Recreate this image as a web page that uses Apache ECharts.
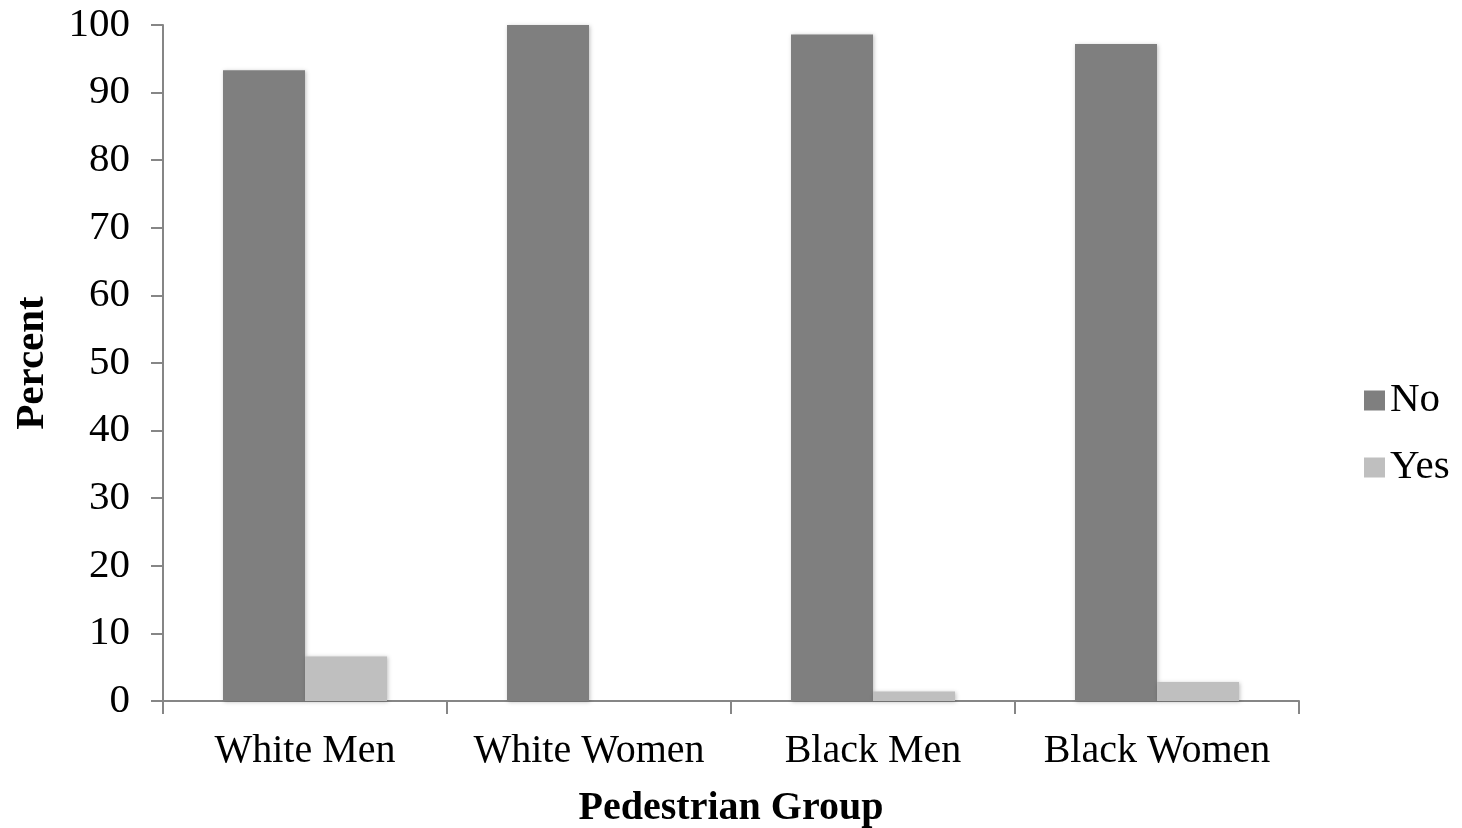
<!DOCTYPE html>
<html>
<head>
<meta charset="utf-8">
<script src="https://cdn.jsdelivr.net/npm/echarts@6/dist/echarts.min.js"></script>
<style>
  html, body { margin: 0; padding: 0; background: #fff; }
  #chart { width: 1462px; height: 828px; }
</style>
</head>
<body>
<div id="chart"></div>
<script>
// Pedestrian groups along the x axis
const categories = ['White Men', 'White Women', 'Black Men', 'Black Women'];
// Percent answering "No" / "Yes" per group
const noValues = [93.3, 100, 98.6, 97.2];
const yesValues = [6.6, 0, 1.4, 2.8];
const yTicks = { min: 0, max: 100, interval: 10 };

const FONT = '"Liberation Serif", "DejaVu Serif", serif';
const AXIS_COLOR = '#868686';

const chart = echarts.init(document.getElementById('chart'));

const barShadow = {
  shadowBlur: 4,
  shadowColor: 'rgba(0,0,0,0.25)',
  shadowOffsetX: 1,
  shadowOffsetY: 1
};

chart.setOption({
  animation: false,
  backgroundColor: '#fff',
  textStyle: { fontFamily: FONT },
  grid: {
    left: 163, right: 163, top: 25, bottom: 127,
    containLabel: false,
    outerBoundsMode: 'none'
  },
  legend: {
    orient: 'vertical',
    left: 1359,
    top: 375,
    itemWidth: 21,
    itemHeight: 20,
    itemGap: 26,
    icon: 'rect',
    textStyle: { fontFamily: FONT, fontSize: 41, color: '#000' },
    data: ['No', 'Yes']
  },
  xAxis: {
    type: 'category',
    data: categories,
    name: 'Pedestrian Group',
    nameLocation: 'middle',
    nameGap: 88,
    nameTextStyle: { fontFamily: FONT, fontSize: 40, fontWeight: 'bold', color: '#000' },
    axisLine: { show: true, lineStyle: { color: AXIS_COLOR, width: 2 } },
    axisTick: { show: true, interval: 0, alignWithLabel: false, length: 13, lineStyle: { color: AXIS_COLOR, width: 2 } },
    axisLabel: { interval: 0, fontFamily: FONT, fontSize: 40, color: '#000', margin: 30 },
    splitLine: { show: false }
  },
  yAxis: {
    type: 'value',
    min: yTicks.min,
    max: yTicks.max,
    interval: yTicks.interval,
    name: 'Percent',
    nameLocation: 'middle',
    nameGap: 110,
    nameRotate: 90,
    nameTextStyle: { fontFamily: FONT, fontSize: 41, fontWeight: 'bold', color: '#000' },
    axisLine: { show: true, lineStyle: { color: AXIS_COLOR, width: 2 } },
    axisTick: { show: true, length: 12, lineStyle: { color: AXIS_COLOR, width: 2 } },
    axisLabel: { fontFamily: FONT, fontSize: 41, color: '#000', margin: 33 },
    splitLine: { show: false }
  },
  series: [
    {
      name: 'No',
      type: 'bar',
      data: noValues,
      barWidth: 82,
      barGap: '0%',
      itemStyle: Object.assign({ color: '#7f7f7f' }, barShadow)
    },
    {
      name: 'Yes',
      type: 'bar',
      data: yesValues,
      barWidth: 82,
      barGap: '0%',
      itemStyle: Object.assign({ color: '#bfbfbf' }, barShadow)
    }
  ]
});
</script>
</body>
</html>
